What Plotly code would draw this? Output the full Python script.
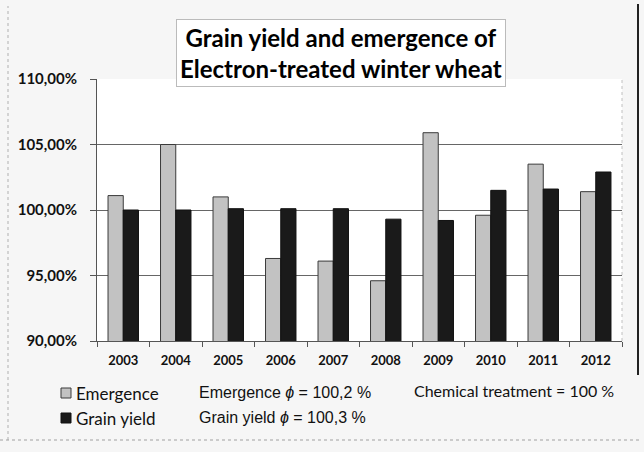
import plotly.graph_objects as go

years = ["2003", "2004", "2005", "2006", "2007", "2008", "2009", "2010", "2011", "2012"]
emergence = [101.1, 105.0, 101.0, 96.3, 96.1, 94.6, 105.9, 99.6, 103.5, 101.4]
grain_yield = [100.0, 100.0, 100.1, 100.1, 100.1, 99.3, 99.2, 101.5, 101.6, 102.9]
y_ticks = [90, 95, 100, 105, 110]
y_tick_labels = ["90,00%", "95,00%", "100,00%", "105,00%", "110,00%"]
series_names = ["Emergence", "Grain yield"]
notes = ["Emergence <i>\u03d5</i> = 100,2 %", "Grain yield <i>\u03d5</i> = 100,3 %"]
chem_note = "Chemical treatment = 100 %"

W, H = 644, 452
px = lambda x: x / W
py = lambda y: 1 - y / H
colors = ["#c2c2c2", "#1a1a1a"]
edges = ["#3a3a3a", "#111111"]

fig = go.Figure()
for name, vals, c, e in zip(series_names, [emergence, grain_yield], colors, edges):
    fig.add_trace(go.Bar(x=years, y=vals, name=name, showlegend=False,
                         marker=dict(color=c, line=dict(color=e, width=1))))

fig.update_layout(
    width=W, height=H,
    margin=dict(l=0, r=0, t=0, b=0),
    paper_bgcolor="#f6f6f6", plot_bgcolor="#ffffff",
    barmode="group", bargap=0.42, bargroupgap=0.0,
    font=dict(family="Lato", color="#111111"),
    xaxis=dict(domain=[px(97), px(622)], type="category",
               showline=True, linecolor="#555555", linewidth=1,
               ticks="outside", tickson="boundaries", ticklen=5, tickcolor="#555555",
               ticklabelstandoff=7,
               tickfont=dict(family="Lato", size=13, color="#111111", weight="bold"),
               automargin=False),
    yaxis=dict(domain=[py(341), py(79)], range=[90, 110],
               tickvals=y_ticks, ticktext=y_tick_labels,
               showline=True, linecolor="#555555", linewidth=1,
               ticks="outside", ticklen=6, tickcolor="#555555",
               ticklabelstandoff=10,
               showgrid=True, gridcolor="#666666", gridwidth=1,
               tickfont=dict(family="Lato", size=15, color="#111111", weight="bold"),
               automargin=False),
    showlegend=False,
)

# plot-area right border (light)
fig.add_shape(type="line", xref="paper", yref="paper",
              x0=px(622), x1=px(622), y0=py(341), y1=py(79),
              line=dict(color="#c0c0c0", width=1, dash="dot"))

# title
fig.add_annotation(x=px(341), y=py(53), xref="paper", yref="paper",
                   xanchor="center", yanchor="middle",
                   text="<b>Grain yield and emergence of<br>Electron-treated winter wheat</b>",
                   showarrow=False, font=dict(family="Lato", size=24, color="#000000"),
                   bgcolor="#ffffff", bordercolor="#bbbbbb", borderwidth=1, borderpad=3,
                   align="center")

# manual legend
rows_y = [393, 418]
for name, c, e, yy, note in zip(series_names, colors, edges, rows_y, notes):
    fig.add_shape(type="rect", xref="paper", yref="paper",
                  x0=px(61), x1=px(71), y0=py(yy + 5), y1=py(yy - 5),
                  fillcolor=c, line=dict(color=e, width=1))
    fig.add_annotation(x=px(74), y=py(yy), xref="paper", yref="paper", text=name,
                       showarrow=False, xanchor="left", yanchor="middle",
                       font=dict(family="Lato", size=17, color="#111111"))
    fig.add_annotation(x=px(197), y=py(yy - 1), xref="paper", yref="paper", text=note,
                       showarrow=False, xanchor="left", yanchor="middle",
                       font=dict(family="Liberation Sans", size=16, color="#111111"))

fig.add_annotation(x=px(412), y=py(390), xref="paper", yref="paper", text=chem_note,
                   showarrow=False, xanchor="left", yanchor="middle",
                   font=dict(family="Lato", size=16, color="#111111"))

# outer frame remnants
fig.add_shape(type="line", xref="paper", yref="paper",
              x0=px(8), x1=px(8), y0=py(440), y1=py(6),
              line=dict(color="#b0b0b0", width=1, dash="dot"))
fig.add_shape(type="line", xref="paper", yref="paper",
              x0=px(0), x1=px(640), y0=py(440), y1=py(440),
              line=dict(color="#a0a0a0", width=1, dash="dot"))
fig.add_shape(type="line", xref="paper", yref="paper",
              x0=px(638), x1=px(638), y0=py(4), y1=py(375),
              line=dict(color="#222222", width=2))

fig.write_html("out.html", config={"displayModeBar": False},
               post_script="document.body.style.margin='0';")
